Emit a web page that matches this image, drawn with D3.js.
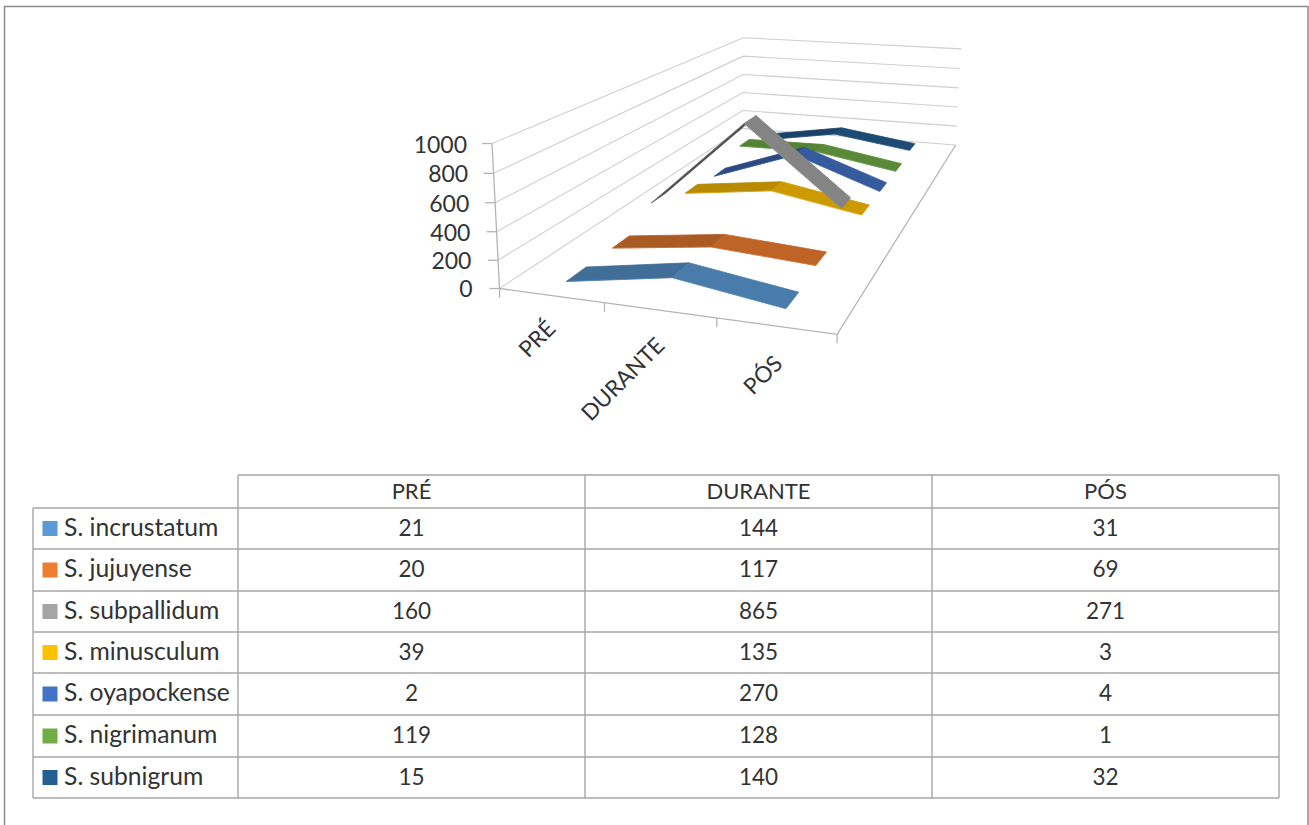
<!DOCTYPE html>
<html>
<head>
<meta charset="utf-8">
<script src="https://cdn.jsdelivr.net/npm/d3@7/dist/d3.min.js"></script>
<style>
html,body{margin:0;padding:0;background:#fff;}
svg{display:block;}
text{font-family:Lato,"Open Sans",sans-serif;fill:#333;}
</style>
</head>
<body>
<svg id="chart" width="1309" height="825"></svg>
<script>
// Chart content
const categories = ["PRÉ", "DURANTE", "PÓS"];
const seriesNames = ["S. incrustatum", "S. jujuyense", "S. subpallidum", "S. minusculum", "S. oyapockense", "S. nigrimanum", "S. subnigrum"];
const incrustatum = [21, 144, 31];
const jujuyense = [20, 117, 69];
const subpallidum = [160, 865, 271];
const minusculum = [39, 135, 3];
const oyapockense = [2, 270, 4];
const nigrimanum = [119, 128, 1];
const subnigrum = [15, 140, 32];
const valueTicks = [0, 200, 400, 600, 800, 1000];
const seriesColors = ["#5b9bd5", "#ed7d31", "#a5a5a5", "#ffc000", "#4472c4", "#70ad47", "#255e91"];

const seriesValues = [incrustatum, jujuyense, subpallidum, minusculum, oyapockense, nigrimanum, subnigrum];

const svg = d3.select("#chart");

// Normalised 3D box: u along categories, v along values, w along series depth
const uScale = d3.scaleLinear().domain([0, categories.length]).range([0, 1]);
const vScale = d3.scaleLinear().domain([0, 1000]).range([0, 1]);
const wScale = d3.scaleLinear().domain([0, seriesNames.length]).range([0, 1]);

// Where the corners of the box land on the page; the camera is solved from these
const boxAnchors = [
  [0, 0, 0, 499, 289], [1, 0, 0, 837, 334], [0, 0, 1, 744, 128], [1, 0, 1, 955, 145],
  [0, 1, 0, 493, 143], [0, 1, 1, 742, 38], [1, 1, 1, 962, 49],
  [1 / 3, 0, 0, 604, 303], [2 / 3, 0, 0, 717, 318]
];

function solveCamera(anchors) {
  const rows = [];
  const k = 1000;
  anchors.forEach(([u, v, w, x, y]) => {
    const X = x / k, Y = y / k;
    rows.push([u, v, w, 1, 0, 0, 0, 0, -X * u, -X * v, -X * w, X]);
    rows.push([0, 0, 0, 0, u, v, w, 1, -Y * u, -Y * v, -Y * w, Y]);
  });
  const n = 11;
  const m = d3.range(n).map(i => d3.range(n + 1).map(j => d3.sum(rows, r => r[i] * r[j])));
  for (let c = 0; c < n; c++) {
    let p = c;
    for (let r = c + 1; r < n; r++) if (Math.abs(m[r][c]) > Math.abs(m[p][c])) p = r;
    [m[c], m[p]] = [m[p], m[c]];
    for (let r = 0; r < n; r++) {
      if (r === c) continue;
      const f = m[r][c] / m[c][c];
      for (let j = c; j <= n; j++) m[r][j] -= f * m[c][j];
    }
  }
  const s = d3.range(n).map(i => m[i][n] / m[i][i]);
  return ([u, v, w]) => {
    const d = s[8] * u + s[9] * v + s[10] * w + 1;
    return [k * (s[0] * u + s[1] * v + s[2] * w + s[3]) / d,
            k * (s[4] * u + s[5] * v + s[6] * w + s[7]) / d];
  };
}
const project = solveCamera(boxAnchors);
const line = d3.line();

// Frame around the whole object
const frameColor = "#8c8c8c";
svg.append("path").attr("d", "M4.5,825V6.5H1308V825").attr("fill", "none")
  .attr("stroke", frameColor).attr("stroke-width", 1.5);

// Walls: gridlines run along the left wall, then along the back wall
const gridColor = "#cfcfcf";
const grid = svg.append("g").attr("fill", "none").attr("stroke", gridColor).attr("stroke-width", 1.1);
valueTicks.forEach(t => {
  const v = vScale(t);
  grid.append("path").attr("d", line([[0, v, 0], [0, v, 1], [1, v, 1]].map(project)));
});

// Floor edges and axes
const axisColor = "#b4b4b4";
const axes = svg.append("g").attr("fill", "none").attr("stroke", axisColor).attr("stroke-width", 1.3);
axes.append("path").attr("d", line([[0, 0, 0], [1, 0, 0], [1, 0, 1]].map(project)));
axes.append("path").attr("d", line([[0, 0, 0], [0, 1, 0]].map(project)));
valueTicks.forEach(t => {
  const v = vScale(t);
  const [x, y] = project([0, v, 0]);
  axes.append("path").attr("d", `M${x - 10},${y}H${x}`);
  svg.append("text").attr("x", x - 27 + 2 * v).attr("y", y + 9).attr("text-anchor", "end")
    .style("font-size", "23px").text(t);
});
d3.range(categories.length + 1).forEach(i => {
  const [x, y] = project([uScale(i), 0, 0]);
  axes.append("path").attr("d", `M${x},${y}v9`);
});

// Category labels, slanted and ending just under each band of the axis
const labelAnchors = [[557, 330], [666, 347], [784, 365]];
categories.forEach((c, i) => {
  const [x, y] = labelAnchors[i];
  svg.append("text").attr("transform", `translate(${x},${y}) rotate(-45)`)
    .attr("text-anchor", "end").style("font-size", "22.5px").text(c);
});

// Ribbons, drawn from the deepest series to the nearest
const ribbonDepth = 0.41;
function faceColor(base, rise) {
  const k = rise > 0 ? 0.76 - 0.3 * Math.min(1, rise / 705) : 0.8;
  const c = d3.rgb(base);
  return d3.rgb(c.r * k, c.g * k, c.b * k).formatHex();
}
const ribbons = svg.append("g");
d3.range(seriesNames.length - 1, -1, -1).forEach(si => {
  const vals = seriesValues[si];
  const w0 = wScale(si + 0.5 - ribbonDepth / 2);
  const w1 = wScale(si + 0.5 + ribbonDepth / 2);
  d3.pairs(d3.range(vals.length)).forEach(([a, b]) => {
    const ua = uScale(a + 0.5), ub = uScale(b + 0.5);
    const va = vScale(vals[a]), vb = vScale(vals[b]);
    const quad = [[ua, va, w0], [ub, vb, w0], [ub, vb, w1], [ua, va, w1]].map(project);
    const fill = faceColor(seriesColors[si], vals[b] - vals[a]);
    ribbons.append("path").attr("d", line(quad) + "Z")
      .attr("fill", fill).attr("stroke", fill).attr("stroke-width", 0.8);
    ribbons.append("path").attr("d", line(quad.slice(0, 2)))
      .attr("fill", "none").attr("stroke", seriesColors[si]).attr("stroke-width", 0.7)
      .attr("stroke-opacity", 0.5);
  });
});

// Data table with legend keys
const tableColor = "#a6a6a6";
const colEdges = [238, 585, 932, 1279];
const rowEdges = [475, 508, 549, 591, 632, 673, 715, 757, 798];
const table = svg.append("g");
const rule = (x1, y1, x2, y2) => table.append("line")
  .attr("x1", x1).attr("y1", y1).attr("x2", x2).attr("y2", y2)
  .attr("stroke", tableColor).attr("stroke-width", 1.4);

rowEdges.forEach((y, i) => rule(i === 0 ? colEdges[0] : 33, y, colEdges[3], y));
colEdges.forEach(x => rule(x, rowEdges[0], x, rowEdges[8]));
rule(33, rowEdges[1], 33, rowEdges[8]);

categories.forEach((c, i) => {
  table.append("text").attr("x", (colEdges[i] + colEdges[i + 1]) / 2)
    .attr("y", (rowEdges[0] + rowEdges[1]) / 2 + 7)
    .attr("text-anchor", "middle").style("font-size", "22px").text(c);
});
seriesNames.forEach((name, si) => {
  const mid = (rowEdges[si + 1] + rowEdges[si + 2]) / 2;
  table.append("rect").attr("x", 42.5).attr("y", mid - 7.5).attr("width", 15).attr("height", 15)
    .attr("fill", seriesColors[si]);
  table.append("text").attr("x", 64).attr("y", mid + 7).style("font-size", "24.7px").text(name);
  seriesValues[si].forEach((val, ci) => {
    table.append("text").attr("x", (colEdges[ci] + colEdges[ci + 1]) / 2).attr("y", mid + 7)
      .attr("text-anchor", "middle").style("font-size", "22.5px").text(val);
  });
});
</script>
</body>
</html>
